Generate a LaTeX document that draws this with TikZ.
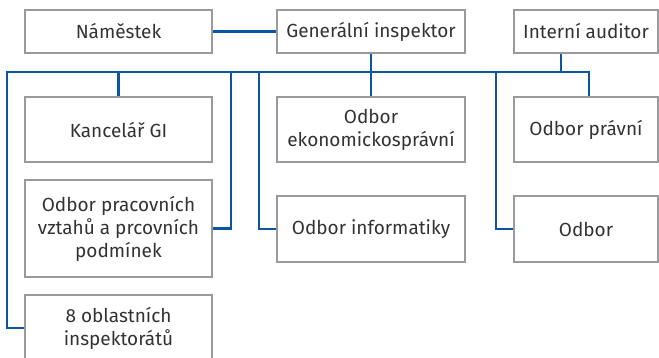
\documentclass[tikz,border=0pt]{standalone}
\usepackage{fontspec}
\setmainfont{Fira Sans}
\definecolor{lineblue}{HTML}{0A55A6}
\definecolor{boxgray}{HTML}{9A9A9C}
\definecolor{txtgray}{HTML}{333333}
\begin{document}
\begin{tikzpicture}[x=1pt,y=-1pt,
  box/.style={draw=boxgray,line width=2pt,fill=white,inner sep=0pt,align=center,
    text=txtgray,font=\fontsize{19}{23}\selectfont},
  conn/.style={draw=lineblue,line width=2.2pt}]
\useasboundingbox (0,0) rectangle (659,357);
\clip (0,0) rectangle (659,357);
% junctions
\coordinate (busL) at (7,72);
\coordinate (busR) at (589,72);
\coordinate (j1) at (231,72);
\coordinate (j2) at (259,72);
\coordinate (j3) at (496,72);
\coordinate (iaj) at (561,72);
% boxes
\node[box,minimum width=187pt,minimum height=43pt] (nam) at (118.5,31.5) {Náměstek};
\node[box,minimum width=188pt,minimum height=43pt] (gi) at (371,31.5) {Generální inspektor};
\node[box,minimum width=144pt,minimum height=43pt] (ia) at (586,31.5) {Interní auditor};
\node[box,minimum width=187pt,minimum height=65pt] (kan) at (118.5,129.5) {Kancelář GI};
\node[box,minimum width=188pt,minimum height=65pt] (eko) at (371,129.5) {Odbor\\ekonomickosprávní};
\node[box,minimum width=144pt,minimum height=65pt] (pra) at (586,129.5) {Odbor právní};
\node[box,minimum width=187pt,minimum height=97pt] (prac) at (118.5,228.5) {Odbor pracovních\\vztahů a prcovních\\podmínek};
\node[box,minimum width=188pt,minimum height=66pt] (inf) at (371,229) {Odbor informatiky};
\node[box,minimum width=144pt,minimum height=66pt] (odb) at (586,229) {Odbor};
\node[box,minimum width=187pt,minimum height=66pt] (obl) at (118.5,328) {8 oblastních\\inspektorátů};
% connectors
\draw[conn] (nam.east) -- (gi.west);
\draw[conn] (obl.west) -| (busL) -- (busR) -- (busR |- pra.north);
\draw[conn] (gi.south) -- (eko.north);
\draw[conn] (iaj |- ia.south) -- (iaj);
\draw[conn] (kan.north) -- (kan.north |- busL);
\draw[conn] (prac.east) -| (j1);
\draw[conn] (inf.west) -| (j2);
\draw[conn] (odb.west) -| (j3);
\end{tikzpicture}
\end{document}
